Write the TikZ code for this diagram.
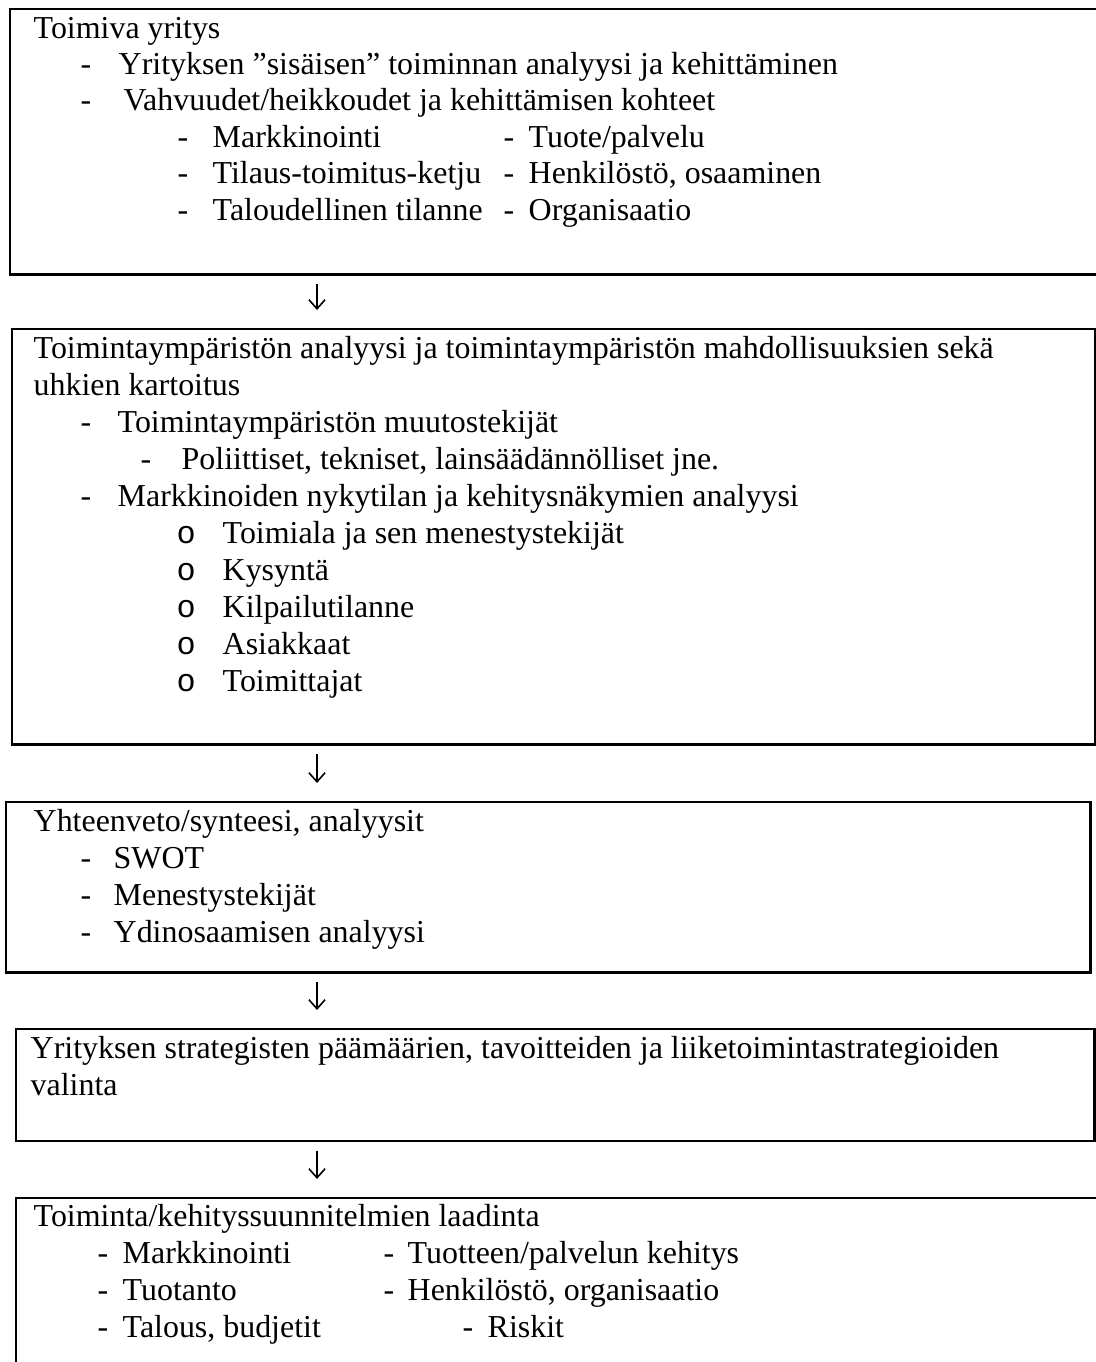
\documentclass[tikz,border=0pt]{standalone}
\usepackage{fontspec}
\setmainfont{Liberation Serif}
\newfontfamily\bulletfont{Liberation Mono}
\usetikzlibrary{arrows.meta}

\begin{document}
\begin{tikzpicture}[x=0.01cm,y=-0.01cm,
  box/.style={draw=black,line width=0.8pt,anchor=north west,inner sep=0pt,outer sep=0pt},
  txt/.style={anchor=base west,inner sep=0pt,font=\fontsize{9.08}{10.4}\selectfont},
  flow/.style={-{Straight Barb[length=2.6pt,width=4.6pt]},line width=0.45pt,shorten <=0.1cm,shorten >=0.19cm}
]
\useasboundingbox (0,0) rectangle (1096,1362);
\fill[white] (0,0) rectangle (1096,1362);
\clip (0,0) rectangle (1096,1362);

\node[box,minimum width=11cm,minimum height=2.65cm] (b1) at (10,9) {};
\node[box,minimum width=10.83cm,minimum height=4.15cm] (b2) at (12,329) {};
\node[box,minimum width=10.84cm,minimum height=1.70cm] (b3) at (6,802) {};
\node[box,minimum width=10.78cm,minimum height=1.12cm] (b4) at (16,1029) {};
\node[box,minimum width=11cm,minimum height=2cm] (b5) at (16,1198) {};

% first box
\node[txt] (t1) at (33,38) {Toimiva yritys};
\node[txt] (t1d1) at (80,74) {-};
\node[txt] (t1i1) at (118,74) {Yrityksen ”sisäisen” toiminnan analyysi ja kehittäminen};
\node[txt] (t1d2) at (80,110.5) {-};
\node[txt] (t1i2) at (123,110.5) {Vahvuudet/heikkoudet ja kehittämisen kohteet};
\node[txt] (t1d3) at (177,147) {-};
\node[txt] (t1i3) at (212,147) {Markkinointi};
\node[txt] (t1e3) at (503,147) {-};
\node[txt] (t1j3) at (528,147) {Tuote/palvelu};
\node[txt] (t1d4) at (177,183.5) {-};
\node[txt] (t1i4) at (212,183.5) {Tilaus-toimitus-ketju};
\node[txt] (t1e4) at (503,183.5) {-};
\node[txt] (t1j4) at (528,183.5) {Henkilöstö, osaaminen};
\node[txt] (t1d5) at (177,220) {-};
\node[txt] (t1i5) at (212,220) {Taloudellinen tilanne};
\node[txt] (t1e5) at (503,220) {-};
\node[txt] (t1j5) at (528,220) {Organisaatio};

% second box
\node[txt] (t2) at (33,358) {Toimintaympäristön analyysi ja toimintaympäristön mahdollisuuksien sekä};
\node[txt] (t2b) at (33,395) {uhkien kartoitus};
\node[txt] (t2d1) at (80,432) {-};
\node[txt] (t2i1) at (117,432) {Toimintaympäristön muutostekijät};
\node[txt] (t2d2) at (140,469) {-};
\node[txt] (t2i2) at (181,469) {Poliittiset, tekniset, lainsäädännölliset jne.};
\node[txt] (t2d3) at (80,506) {-};
\node[txt] (t2i3) at (117,506) {Markkinoiden nykytilan ja kehitysnäkymien analyysi};
\node[txt] (t2o1) at (176,543) {\bulletfont o};
\node[txt] (t2k1) at (222,543) {Toimiala ja sen menestystekijät};
\node[txt] (t2o2) at (176,580) {\bulletfont o};
\node[txt] (t2k2) at (222,580) {Kysyntä};
\node[txt] (t2o3) at (176,617) {\bulletfont o};
\node[txt] (t2k3) at (222,617) {Kilpailutilanne};
\node[txt] (t2o4) at (176,654) {\bulletfont o};
\node[txt] (t2k4) at (222,654) {Asiakkaat};
\node[txt] (t2o5) at (176,691) {\bulletfont o};
\node[txt] (t2k5) at (222,691) {Toimittajat};

% third box
\node[txt] (t3) at (33,831) {Yhteenveto/synteesi, analyysit};
\node[txt] (t3d1) at (80,868) {-};
\node[txt] (t3i1) at (113,868) {SWOT};
\node[txt] (t3d2) at (80,905) {-};
\node[txt] (t3i2) at (113,905) {Menestystekijät};
\node[txt] (t3d3) at (80,942) {-};
\node[txt] (t3i3) at (113,942) {Ydinosaamisen analyysi};

% fourth box
\node[txt] (t4) at (30,1058) {Yrityksen strategisten päämäärien, tavoitteiden ja liiketoimintastrategioiden};
\node[txt] (t4b) at (30,1095) {valinta};

% fifth box
\node[txt] (t5) at (33,1226) {Toiminta/kehityssuunnitelmien laadinta};
\node[txt] (t5d1) at (97,1263) {-};
\node[txt] (t5i1) at (122,1263) {Markkinointi};
\node[txt] (t5e1) at (383,1263) {-};
\node[txt] (t5j1) at (407,1263) {Tuotteen/palvelun kehitys};
\node[txt] (t5d2) at (97,1300) {-};
\node[txt] (t5i2) at (122,1300) {Tuotanto};
\node[txt] (t5e2) at (383,1300) {-};
\node[txt] (t5j2) at (407,1300) {Henkilöstö, organisaatio};
\node[txt] (t5d3) at (97,1337) {-};
\node[txt] (t5i3) at (122,1337) {Talous, budjetit};
\node[txt] (t5e3) at (462,1337) {-};
\node[txt] (t5j3) at (487,1337) {Riskit};

\coordinate (ax) at (317,0);
\draw[flow] (b1.south -| ax) -- (b2.north -| ax);
\draw[flow] (b2.south -| ax) -- (b3.north -| ax);
\draw[flow] (b3.south -| ax) -- (b4.north -| ax);
\draw[flow] (b4.south -| ax) -- (b5.north -| ax);
\end{tikzpicture}
\end{document}
